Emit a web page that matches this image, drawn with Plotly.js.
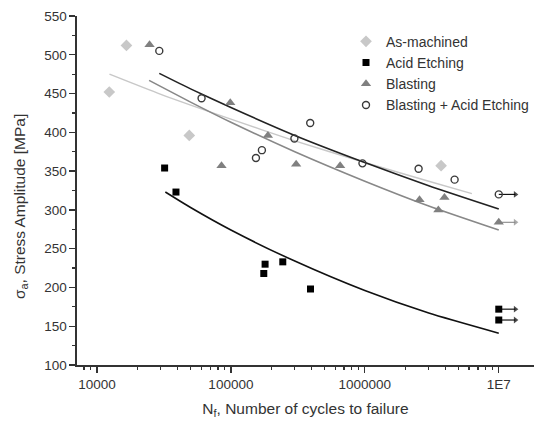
<!DOCTYPE html>
<html>
<head>
<meta charset="utf-8">
<script src="https://cdn.plot.ly/plotly-3.0.1.min.js"></script>
<style>html,body{margin:0;padding:0;background:#fff;}#chart{width:534px;height:421px;}</style>
</head>
<body>
<div id="chart"></div>
<script>
// ---- Data ----
// As-machined
const amN = [12360, 16600, 48900, 3710000];
const amS = [452, 512, 396, 357];
// Acid Etching
const aeN = [32000, 38900, 180000, 176000, 244000, 393000, 10000000, 10000000];
const aeS = [354, 323, 230, 218, 233, 198, 172, 158];
// Blasting
const blN = [24700, 98900, 85100, 189000, 307000, 654000, 2560000, 3540000, 3930000, 10000000];
const blS = [513, 438, 357, 396, 359, 357, 313, 300, 316, 284];
// Blasting + Acid Etching
const baN = [29200, 60400, 153800, 170400, 298000, 391000, 960000, 2520000, 4680000, 10000000];
const baS = [505, 444, 367, 377, 392, 412, 360, 353, 339, 320];

// Fitted curves
const amFitN = [12400, 30000, 100000, 300000, 1000000, 3000000, 6300000];
const amFitS = [475, 449, 417, 389, 361, 337, 321];
const aeFitN = [32400, 50000, 100000, 300000, 1000000, 3000000, 10000000];
const aeFitS = [323, 303, 274, 234, 196, 167, 141];
const blFitN = [24500, 50000, 100000, 300000, 1000000, 3000000, 10000000];
const blFitS = [467, 439, 413, 375, 337, 305, 274];
const baFitN = [29200, 50000, 100000, 300000, 1000000, 3000000, 10000000];
const baFitS = [476, 456, 432, 396, 361, 331, 301];

const xTickVals = [10000, 100000, 1000000, 10000000];
const xTickText = ['10000', '100000', '1000000', '1E7'];
const runoutN = 10000000;

const cAM = '#c8c8c8', cAE = '#000000', cBL = '#808080', cBA = '#3a3a3a';
const FONT = 'Arial, "Liberation Sans", sans-serif';

function fit(n, s, color, w) {
  return {x: n, y: s, mode: 'lines', type: 'scatter', showlegend: false, hoverinfo: 'skip',
    line: {color: color, width: w, shape: 'spline', smoothing: 0.6}};
}

const traces = [
  fit(amFitN, amFitS, cAM, 1.5),
  fit(aeFitN, aeFitS, '#111', 1.6),
  fit(blFitN, blFitS, '#888', 1.6),
  fit(baFitN, baFitS, '#222', 1.6)
];

// Run-out arrows (drawn from each run-out point to the right)
function addRunouts(n, s, color) {
  for (let i = 0; i < n.length; i++) {
    if (n[i] >= runoutN) {
      traces.push({x: [n[i], n[i] * 1.33], y: [s[i], s[i]], mode: 'lines+markers', type: 'scatter',
        showlegend: false, hoverinfo: 'skip', cliponaxis: false,
        line: {color: color, width: 1.1},
        marker: {symbol: ['circle', 'triangle-right'], size: [0, 6], color: color, line: {width: 0}}});
    }
  }
}
addRunouts(aeN, aeS, '#000');
addRunouts(blN, blS, '#888');
addRunouts(baN, baS, '#000');

traces.push(
  {x: amN, y: amS, name: 'As-machined', mode: 'markers', type: 'scatter',
   marker: {symbol: 'diamond', size: 9, color: cAM}},
  {x: aeN, y: aeS, name: 'Acid Etching', mode: 'markers', type: 'scatter',
   marker: {symbol: 'square', size: 7, color: cAE}},
  {x: blN, y: blS, name: 'Blasting', mode: 'markers', type: 'scatter',
   marker: {symbol: 'triangle-up', size: 9, color: cBL}},
  {x: baN, y: baS, name: 'Blasting + Acid Etching', mode: 'markers', type: 'scatter',
   marker: {symbol: 'circle-open', size: 7, color: cBA, line: {width: 1.4, color: cBA}}}
);

const layout = {
  width: 534, height: 421,
  margin: {l: 77, r: 0, t: 16, b: 56},
  paper_bgcolor: '#fff', plot_bgcolor: '#fff',
  font: {family: FONT, size: 13.5, color: '#333'},
  showlegend: true,
  legend: {x: 1, y: 0.972, xanchor: 'right', yanchor: 'top', bgcolor: 'rgba(0,0,0,0)',
    font: {family: FONT, size: 14, color: '#333'}, itemwidth: 30, tracegroupgap: 0},
  xaxis: {
    type: 'log', range: [3.851, 7.263],
    tickvals: xTickVals, ticktext: xTickText,
    ticks: 'outside', ticklen: 6, tickwidth: 1.3, tickcolor: '#333',
    minor: {ticks: 'outside', ticklen: 3, tickwidth: 1.2, tickcolor: '#333', dtick: 'D1', showgrid: false},
    showline: true, linecolor: '#333', linewidth: 1.6,
    showgrid: false, zeroline: false,
    tickfont: {family: FONT, size: 13.5, color: '#333'},
    title: {text: 'N<sub>f</sub>, Number of cycles to failure', font: {family: FONT, size: 15.5, color: '#333'}, standoff: 12}
  },
  yaxis: {
    range: [100, 550], dtick: 50, tick0: 100,
    ticks: 'outside', ticklen: 6, tickwidth: 1.3, tickcolor: '#333',
    minor: {ticks: 'outside', ticklen: 3, tickwidth: 1.2, tickcolor: '#333', dtick: 25, showgrid: false},
    showline: true, linecolor: '#333', linewidth: 1.6,
    showgrid: false, zeroline: false,
    tickfont: {family: FONT, size: 13.5, color: '#333'}
  },
  annotations: [{
    text: 'σ<sub>a</sub>, Stress Amplitude [MPa]', textangle: -90,
    xref: 'paper', yref: 'paper', x: -0.125, y: 0.455, xanchor: 'center', yanchor: 'middle',
    showarrow: false, font: {family: FONT, size: 15.5, color: '#333'}
  }]
};

Plotly.newPlot('chart', traces, layout, {displayModeBar: false, staticPlot: true});
</script>
</body>
</html>
